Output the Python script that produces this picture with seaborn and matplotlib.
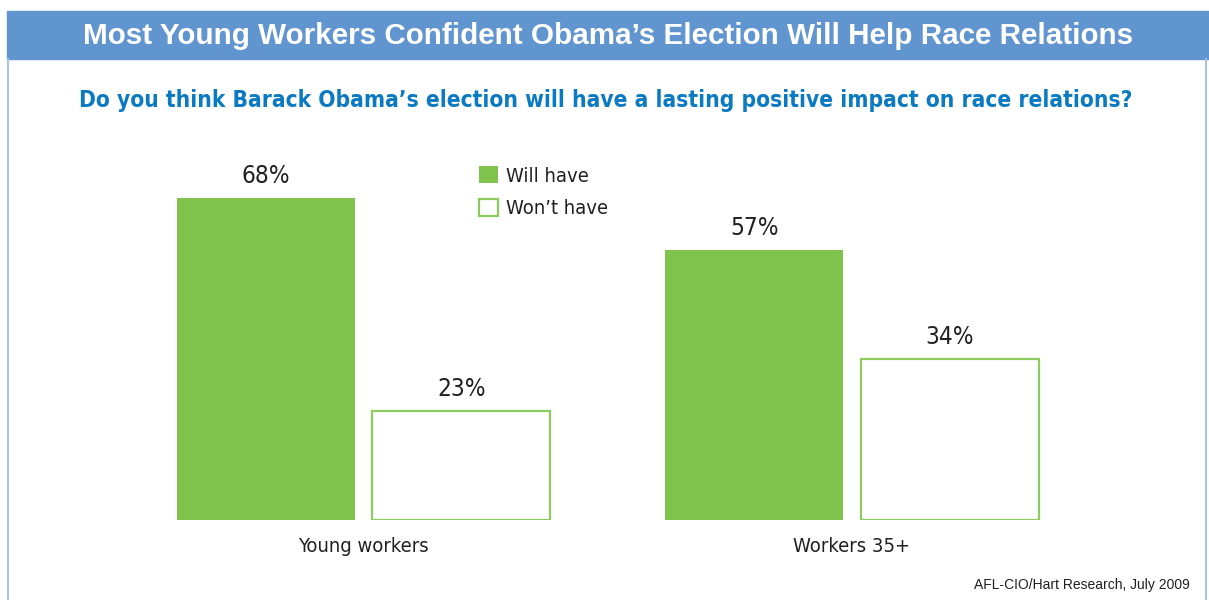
import pandas as pd
import matplotlib
matplotlib.use("Agg")
import matplotlib.pyplot as plt
from matplotlib.patches import Patch, Rectangle
import seaborn as sns

# ========== Data ==========

groups = ['Young workers', 'Workers 35+']
answers = ['Will have', 'Won\u2019t have']
will_have = [68, 57]
wont_have = [23, 34]

title = 'Most Young Workers Confident Obama\u2019s Election Will Help Race Relations'
question = 'Do you think Barack Obama\u2019s election will have a lasting positive impact on race relations?'
source = 'AFL-CIO/Hart Research, July 2009'

GREEN = '#80C34C'
EDGE_GREEN = '#8CCB5E'
BAR_BLUE = '#6195CF'
TEXT_BLUE = '#0A7AC2'
BORDER_BLUE = '#A9C1E8'
DARK = '#231F20'

WIDE = ['Liberation Sans', 'DejaVu Sans']

W, H = 1209, 600


def fx(px):
    return px / W


def fy(px):
    return 1 - px / H


def main():
    df = pd.DataFrame({
        'group': groups * 2,
        'answer': [answers[0]] * 2 + [answers[1]] * 2,
        'pct': will_have + wont_have,
    })

    sns.set_theme(style='white')
    plt.rcParams['font.family'] = ['DejaVu Sans']
    plt.rcParams['font.stretch'] = 'condensed'

    fig = plt.figure(figsize=(W / 100, H / 100), dpi=100)
    fig.patch.set_facecolor('white')

    # frame: title bar and side borders
    fig.patches.append(Rectangle((fx(7), fy(59)), fx(W - 7), 48 / H,
                                 transform=fig.transFigure, color=BAR_BLUE, zorder=0))
    fig.add_artist(plt.Line2D([fx(8), fx(8)], [0, fy(59)], transform=fig.transFigure,
                              color=BORDER_BLUE, lw=1.5))
    fig.add_artist(plt.Line2D([fx(1206), fx(1206)], [0, fy(59)], transform=fig.transFigure,
                              color=BORDER_BLUE, lw=1.5))

    fig.text(fx(608), fy(36), title, color='white', fontsize=21.3, fontweight='bold',
             family=WIDE, fontstretch='normal', ha='center', va='center')
    fig.text(fx(606), fy(100), question, color=TEXT_BLUE, fontsize=16.3, fontweight='bold',
             ha='center', va='center')
    fig.text(fx(1190), fy(585), source, color=DARK, fontsize=10,
             family=WIDE, fontstretch='normal', ha='right', va='center')

    ax = fig.add_axes([fx(119.25), fy(520), fx(977), 378.8 / H])
    sns.barplot(data=df, x='group', y='pct', hue='answer', order=groups, hue_order=answers,
                palette={answers[0]: GREEN, answers[1]: 'white'}, saturation=1,
                width=0.8, gap=0.09, legend=False, ax=ax)

    for bar in ax.containers[0]:
        bar.set_edgecolor(GREEN)
        bar.set_linewidth(0)
    for bar in ax.containers[1]:
        bar.set_edgecolor(EDGE_GREEN)
        bar.set_linewidth(1.6)

    for cont, vals in zip(ax.containers, [will_have, wont_have]):
        ax.bar_label(cont, labels=[f'{v}%' for v in vals], padding=7,
                     fontsize=17.5, color=DARK)

    ax.set_xlim(-0.5, 1.5)
    ax.set_ylim(0, 80)
    ax.set_xlabel('')
    ax.set_ylabel('')
    ax.set_yticks([])
    ax.tick_params(axis='x', length=0, pad=12, labelsize=14.5, labelcolor=DARK)
    sns.despine(ax=ax, left=True, bottom=True)
    ax.patch.set_alpha(0)

    handles = [Patch(facecolor=GREEN, edgecolor=GREEN, lw=0),
               Patch(facecolor='white', edgecolor=EDGE_GREEN, lw=1.6)]
    fig.legend(handles, answers, loc='upper left', bbox_to_anchor=(fx(479), fy(166)),
               frameon=False, fontsize=14.5, handlelength=0.95, handleheight=0.95,
               handletextpad=0.4, labelspacing=0.65, borderpad=0, borderaxespad=0,
               labelcolor=DARK)

    fig.savefig('out.png', dpi=100)
    plt.close(fig)


if __name__ == "__main__":
    main()
